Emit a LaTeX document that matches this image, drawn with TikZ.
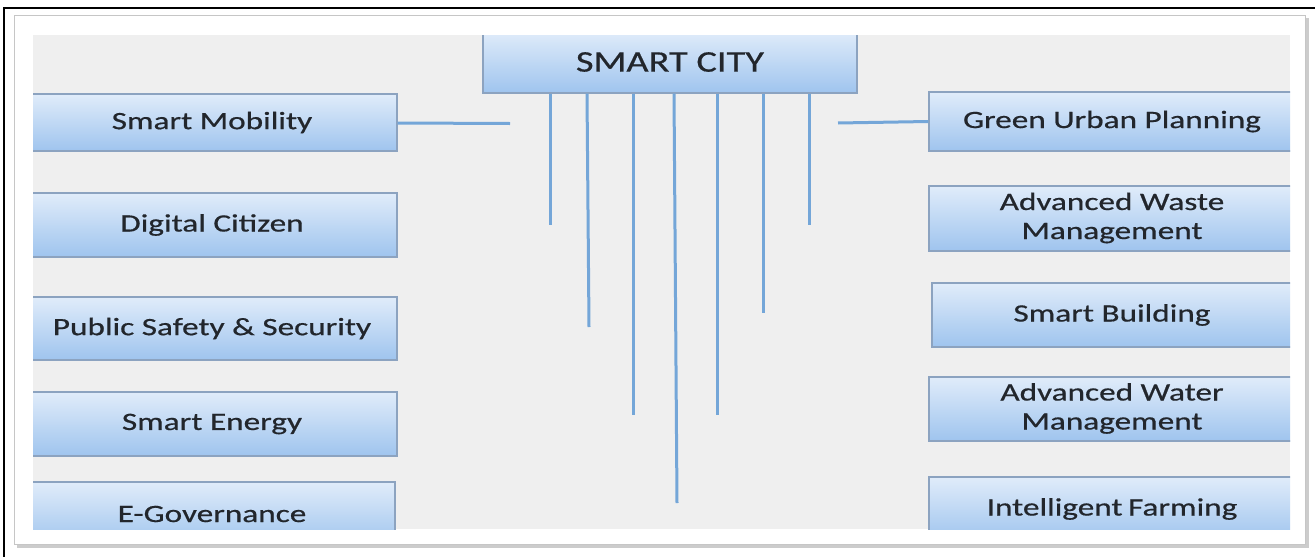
\documentclass[tikz,border=0pt]{standalone}
\usepackage{fontspec}
\setmainfont{Carlito}
\newfontfamily\boxfont{Carlito}[BoldFont=Carlito, BoldFeatures={FakeBold=0.5}]
\usepackage{graphicx}
\definecolor{boxtop}{HTML}{E0ECFA}
\definecolor{boxbot}{HTML}{9FC4EE}
\definecolor{boxline}{HTML}{8CA3C0}
\definecolor{linkblue}{HTML}{74A6D8}
\definecolor{txt}{HTML}{22262C}
\definecolor{panelgray}{HTML}{EFEFEF}
\newcommand{\widetxt}[1]{\scalebox{1.33}[1]{#1}}
\newcommand{\twoline}[2]{\widetxt{\begin{tabular}{@{}c@{}}#1\\[-1pt]#2\end{tabular}}}
\tikzset{
  topicbox/.style={draw=boxline, line width=1.2pt, top color=boxtop, bottom color=boxbot,
    rectangle, inner sep=0pt, text=txt, font=\boxfont\bfseries\fontsize{25}{30}\selectfont},
  link/.style={draw=linkblue, line width=3pt}
}
\begin{document}
\begin{tikzpicture}[x=1pt,y=-1pt]
\useasboundingbox (0,0) rectangle (1315,557);
\fill[white] (0,0) rectangle (1315,557);
% panel with shadow
\fill[gray!40] (17,18) rectangle (1309,548);
\fill[white, draw=gray!45, line width=1pt] (14,15) rectangle (1305,544);
\fill[panelgray] (33,35) rectangle (1290,529);
% black frame (top and left)
\draw[black, line width=2.2pt] (4,557) -- (4,8) -- (1315,8);
\begin{scope}
\clip (33,35) rectangle (1290,529);
% center box
\node[topicbox, minimum width=374pt, minimum height=62pt, font=\boxfont\bfseries\fontsize{30}{36}\selectfont] (sc) at (670,62) {\scalebox{1.28}[1]{SMART CITY}};
% left boxes
\node[topicbox, minimum width=370pt, minimum height=57pt] (sm) at (212,122.5) {\widetxt{Smart Mobility}};
\node[topicbox, minimum width=370pt, minimum height=64pt] (dc) at (212,225) {\widetxt{Digital Citizen}};
\node[topicbox, minimum width=370pt, minimum height=63pt] (ps) at (212,328.5) {\widetxt{Public Safety \& Security}};
\node[topicbox, minimum width=370pt, minimum height=64pt] (se) at (212,424) {\widetxt{Smart Energy}};
\node[topicbox, minimum width=366pt, minimum height=64pt] (eg) at (212,514) {\widetxt{E-Governance}};
% right boxes
\node[topicbox, minimum width=366pt, minimum height=59pt] (gu) at (1112,121.5) {\widetxt{Green Urban Planning}};
\node[topicbox, minimum width=366pt, minimum height=65pt] (aw) at (1112,218.5) {\twoline{Advanced Waste}{Management}};
\node[topicbox, minimum width=360pt, minimum height=64pt] (sb) at (1112,315) {\widetxt{Smart Building}};
\node[topicbox, minimum width=366pt, minimum height=64pt] (am) at (1112,409) {\twoline{Advanced Water}{Management}};
\node[topicbox, minimum width=366pt, minimum height=64pt] (if) at (1112,509) {\widetxt{Intelligent\,Farming}};
\end{scope}
% connector ends
\coordinate (lend) at (510,123.5);
\coordinate (rend) at (838,123);
\coordinate (v1) at (550,225);
\coordinate (v2) at (589,327);
\coordinate (v3) at (633,415);
\coordinate (v4) at (677,503);
\coordinate (v5) at (717,415);
\coordinate (v6) at (763,313);
\coordinate (v7) at (809,225);
\draw[link] ([yshift=-0.5pt]sm.east) -- (lend);
\draw[link] (gu.west) -- (rend);
\draw[link] (sc.south -| v1) -- (v1);
\draw[link] ([xshift=-2pt]sc.south -| v2) -- (v2);
\draw[link] (sc.south -| v3) -- (v3);
\draw[link] ([xshift=-3pt]sc.south -| v4) -- (v4);
\draw[link] (sc.south -| v5) -- (v5);
\draw[link] (sc.south -| v6) -- (v6);
\draw[link] (sc.south -| v7) -- (v7);
\end{tikzpicture}
\end{document}
